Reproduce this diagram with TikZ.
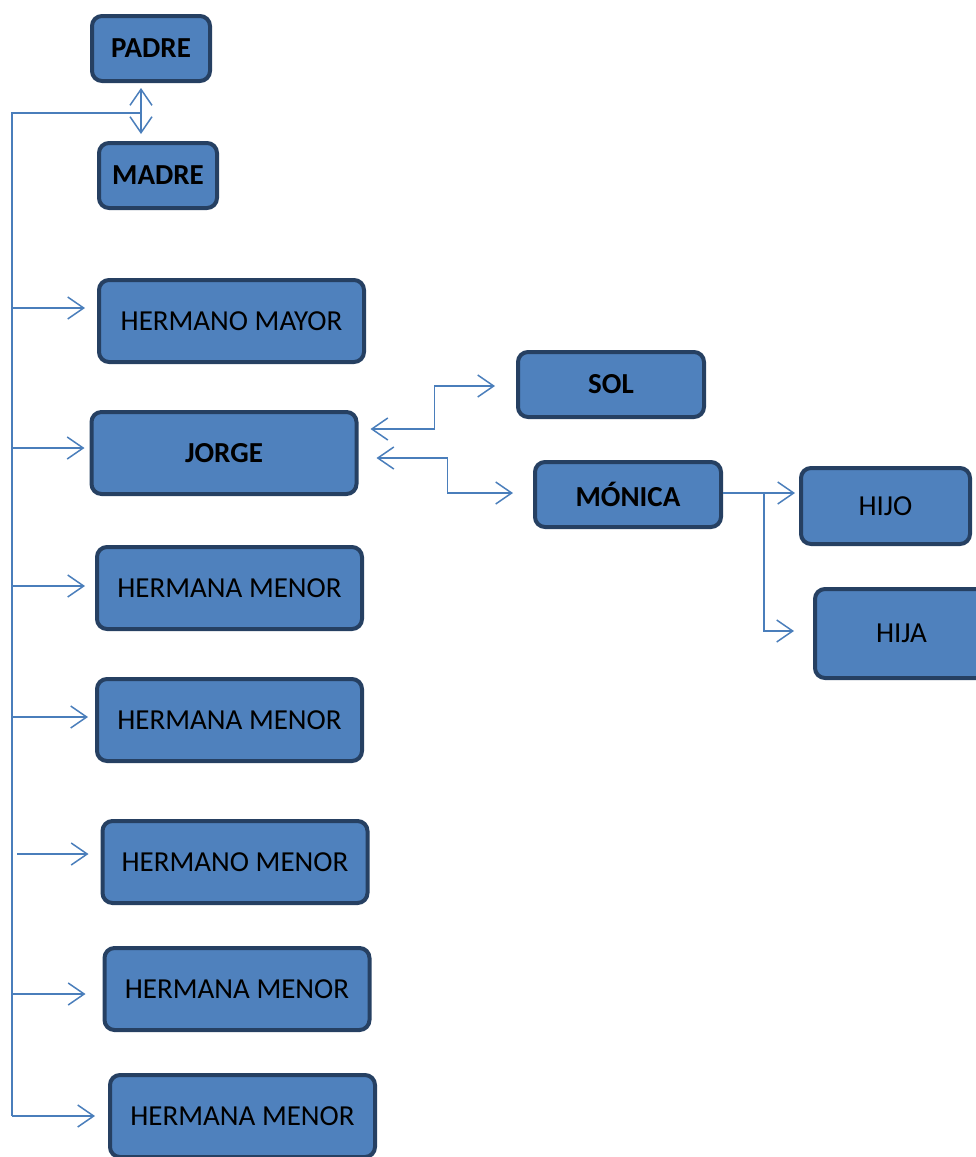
\documentclass[tikz,border=0pt]{standalone}
\usepackage{fontspec}
\setmainfont{Carlito}
\usepackage{tikz}
\usetikzlibrary{arrows.meta, calc}
\definecolor{boxfill}{RGB}{79,129,189}
\definecolor{boxline}{RGB}{38,64,98}
\definecolor{linkblue}{RGB}{74,126,187}

\tikzset{
  member/.style={draw=boxline, line width=4pt, fill=boxfill, rounded corners=10pt,
    minimum width=265pt, minimum height=82pt, inner sep=0pt,
    font=\fontsize{29}{35}\selectfont},
  parent/.style={member, minimum width=118pt, minimum height=65pt, font=\fontsize{29}{35}\selectfont\bfseries},
  link/.style={draw=linkblue, line width=1.5pt},
  >={Straight Barb[length=16pt, width=22pt]}
}

\begin{document}
\begin{tikzpicture}[x=1pt, y=-1pt]
                \useasboundingbox (0,0) rectangle (976,1157);
                \clip (0,0) rectangle (976,1157);

                % Parents
                \node[parent] (padre) at (151,48.5)  {PADRE};
                \node[parent] (madre) at (158,175.5) {MADRE};

                % Siblings
                \node[member] (hmayor)  at (231.5,321)  {HERMANO MAYOR};
                \node[member, font=\fontsize{29}{35}\selectfont\bfseries] (jorge) at (224,453) {JORGE};
                \node[member] (hmenor1) at (229.5,588)  {HERMANA MENOR};
                \node[member] (hmenor2) at (229.5,720)  {HERMANA MENOR};
                \node[member] (hmenorv) at (235,862)    {HERMANO MENOR};
                \node[member] (hmenor3) at (237,989)    {HERMANA MENOR};
                \node[member] (hmenor4) at (242.5,1116) {HERMANA MENOR};

                % Jorge's family
                \node[parent, minimum width=186pt] (sol)    at (611,384.5) {SOL};
                \node[parent, minimum width=186pt] (monica) at (628,494.5) {MÓNICA};
                \node[member, minimum width=169pt, minimum height=76pt] (hijo) at (885.5,506)   {HIJO};
                \node[member, minimum width=173pt, minimum height=89pt] (hija) at (901.5,633.5) {HIJA};

                % Trunk from the parents
                \coordinate (pm)    at (141,113);
                \coordinate (trunk) at (12,113);
                \draw[link, <->, shorten <=5pt, shorten >=7pt]
                    ([xshift=-10pt]padre.south) -- ([xshift=-17pt]madre.north);
                \draw[link] (pm) -- (trunk) -- (trunk |- hmenor4);

                \draw[link, ->, shorten >=12pt] (trunk |- 0,308)  -- ([yshift=13pt]hmayor.west);
                \draw[link, ->, shorten >=5pt]  (trunk |- 0,448)  -- ([yshift=5pt]jorge.west);
                \draw[link, ->, shorten >=10pt] (trunk |- 0,586)  -- ([yshift=2pt]hmenor1.west);
                \draw[link, ->, shorten >=7pt]  (trunk |- 0,717)  -- ([yshift=3pt]hmenor2.west);
                \draw[link, ->, shorten >=12pt] (17,854)          -- ([yshift=8pt]hmenorv.west);
                \draw[link, ->, shorten >=17pt] (trunk |- 0,994)  -- ([yshift=-5pt]hmenor3.west);
                \draw[link, ->, shorten >=13pt] (trunk |- hmenor4) -- (hmenor4.west);

                % Jorge to Sol and Mónica
                \draw[link, <->, shorten <=12pt, shorten >=21pt]
                    ([yshift=24pt]jorge.east) -- ++(76,0) |- ([yshift=-1.5pt]sol.west);
                \draw[link, <->, shorten <=18pt, shorten >=20pt]
                    ([yshift=-5pt]jorge.east) -- ++(89,0) |- ([yshift=1.5pt]monica.west);

                % Children
                \draw[link, ->, shorten >=4pt] ([yshift=1.5pt]monica.east) -- ([yshift=13pt]hijo.west);
                \draw[link, ->, shorten >=19pt] ([yshift=1.5pt]monica.east) ++(41,0) |- ([yshift=2.5pt]hija.west);
\end{tikzpicture}
\end{document}
